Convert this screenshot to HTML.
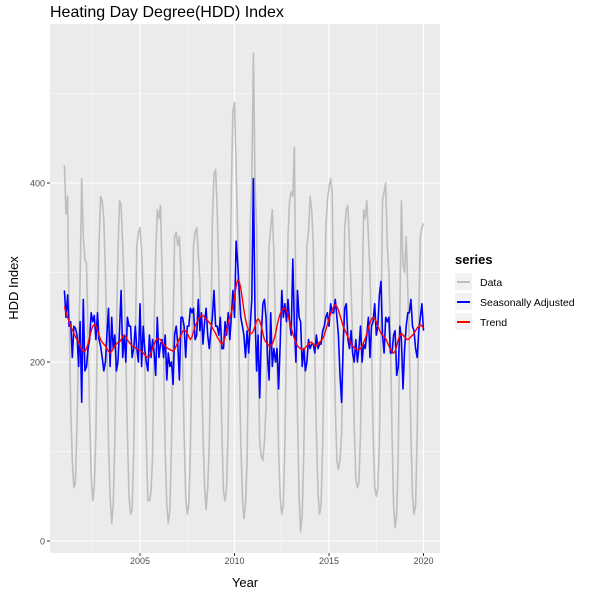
<!DOCTYPE html>
<html><head><meta charset="utf-8"><style>
body{margin:0;background:#fff;font-family:"Liberation Sans",sans-serif;}
svg text{font-family:"Liberation Sans",sans-serif;}
</style></head><body>
<svg id="chart" width="600" height="597">
<text x="50" y="17" font-size="16" fill="#000">Heating Day Degree(HDD) Index</text>
<rect x="50" y="24" width="390" height="529" fill="#ebebeb"/>
<g id="grid"></g><g id="series"></g><g id="axes"></g>
<text x="0" y="0" transform="translate(18,288) rotate(-90)" text-anchor="middle" font-size="13">HDD Index</text>
<text x="245" y="587" text-anchor="middle" font-size="13">Year</text>
<g>
<text x="455" y="264" font-size="13" font-weight="bold">series</text>
<rect x="455" y="273" width="17" height="17" fill="#f2f2f2"/><line x1="457" x2="470" y1="282" y2="282" stroke="#bebebe" stroke-width="2"/>
<text x="480" y="286" font-size="10.5">Data</text>
<rect x="455" y="293" width="17" height="17" fill="#f2f2f2"/><line x1="457" x2="470" y1="302" y2="302" stroke="#0000ff" stroke-width="2"/>
<text x="480" y="306" font-size="10.5">Seasonally Adjusted</text>
<rect x="455" y="313" width="17" height="17" fill="#f2f2f2"/><line x1="457" x2="470" y1="322" y2="322" stroke="#ff0000" stroke-width="2"/>
<text x="480" y="326" font-size="10.5">Trend</text>
</g>
</svg>
<script>
const startYear = 2001;
const yTicks = [0, 200, 400];
const xTicks = [2005, 2010, 2015, 2020];
const dataSeries = [
420,365,385,250,150,90,60,65,130,220,290,405,
340,315,310,230,140,75,45,60,120,250,330,385,
380,360,300,220,110,50,20,40,110,230,320,380,
375,330,280,210,120,50,30,35,100,220,330,345,
350,325,270,200,110,45,45,55,95,240,320,370,
360,375,300,210,100,40,20,35,110,240,340,345,
330,340,300,210,120,50,30,40,100,220,330,345,
350,320,290,200,120,60,35,60,110,220,360,410,
415,370,300,210,120,55,45,60,130,260,390,480,
490,420,340,200,110,50,25,40,90,230,350,400,
545,400,350,220,110,95,90,110,150,250,330,350,
370,320,240,210,100,50,30,40,110,230,340,380,
390,385,440,250,140,50,10,30,100,230,330,345,
385,370,330,210,120,55,30,40,110,230,350,380,
395,405,390,250,150,90,80,90,120,220,350,370,
375,330,280,230,130,70,60,65,120,260,370,360,
380,340,300,220,120,60,50,60,110,240,380,390,
400,330,300,230,120,40,15,30,100,260,380,310,
300,340,280,220,120,50,30,40,120,250,340,350,
355];
const saSeries = [
280,250,275,240,245,205,240,238,230,195,245,155,
270,190,195,215,225,255,245,252,225,255,225,218,
205,190,200,230,260,195,250,215,230,190,200,235,
280,205,230,200,250,240,240,205,215,240,215,200,
265,195,240,215,200,190,230,205,225,210,185,250,
205,220,225,205,230,180,210,195,200,175,230,240,
220,180,250,250,240,205,240,240,260,255,260,225,
230,270,235,255,220,245,260,230,215,235,250,280,
240,240,230,250,215,215,245,230,255,225,250,280,
250,335,310,280,250,240,230,205,235,210,240,270,
405,255,190,230,160,230,265,270,250,205,180,255,
195,215,200,215,170,220,280,250,265,245,270,245,
230,315,240,200,280,250,245,195,215,190,200,225,
215,220,220,210,230,215,220,220,235,240,250,255,
240,265,255,255,270,250,230,185,155,220,260,265,
225,215,235,210,200,225,200,215,240,200,220,215,
230,250,205,240,245,265,230,240,275,290,230,210,
250,245,250,210,210,230,235,185,195,240,225,170,
215,240,255,255,270,240,235,215,205,235,250,265,
235];
const trendSeries = [
262,255,250,245,240,236,232,228,225,222,218,215,
212,212,215,220,228,235,240,242,240,236,230,225,
222,220,218,215,212,210,212,215,218,220,222,222,
225,228,230,228,225,222,220,218,217,216,215,214,
213,212,210,208,206,205,206,210,215,220,224,226,
226,225,222,220,218,216,215,214,213,212,214,218,
222,226,230,234,236,235,232,228,225,228,234,240,
244,248,250,252,252,250,248,246,244,242,238,235,
232,228,225,222,220,222,228,236,244,250,255,262,
272,285,292,290,282,270,258,248,240,235,232,232,
235,240,246,248,246,240,232,225,222,220,218,218,
220,225,232,240,248,254,258,260,260,258,252,245,
238,232,226,222,218,216,215,214,214,216,218,220,
222,222,220,218,218,220,222,224,226,230,236,242,
248,254,258,262,264,262,258,252,246,240,236,232,
228,224,220,218,216,215,214,214,215,218,222,226,
232,238,244,248,250,248,245,240,236,232,230,228,
226,222,218,214,212,210,212,218,225,230,232,230,
228,226,225,226,228,230,232,235,238,240,242,240,
238];
const NS='http://www.w3.org/2000/svg';
function xs(t){return 140+(t-2005)*18.9;}
function ys(v){return 541-v*0.895;}
function mk(tag,attrs,parent){const e=document.createElementNS(NS,tag);for(const k in attrs)e.setAttribute(k,attrs[k]);parent.appendChild(e);return e;}
const grid=document.getElementById('grid'),axes=document.getElementById('axes'),ser=document.getElementById('series');
yTicks.forEach((v,i)=>{
  const m=mk('line',{x1:50,x2:440,y1:ys(v),y2:ys(v),stroke:'#fff','stroke-width':1.1},grid);
  
  
  const n=mk('line',{x1:50,x2:440,y1:ys(v+100),y2:ys(v+100),stroke:'#fff','stroke-width':0.5},grid);
  
  
  const t=mk('text',{x:45,y:ys(v)+3.5,'text-anchor':'end','font-size':9,fill:'#4d4d4d'},axes);t.textContent=v;
  
  
  mk('line',{x1:47,x2:50,y1:ys(v),y2:ys(v),stroke:'#333'},axes);
});
xTicks.forEach(yr=>{
  const m=mk('line',{x1:xs(yr),x2:xs(yr),y1:24,y2:553,stroke:'#fff','stroke-width':1.1},grid);
  
  
  const n=mk('line',{x1:xs(yr-2.5),x2:xs(yr-2.5),y1:24,y2:553,stroke:'#fff','stroke-width':0.5},grid);
  
  
  const t=mk('text',{x:xs(yr),y:564,'text-anchor':'middle','font-size':9,fill:'#4d4d4d'},axes);t.textContent=yr;
  
  
  mk('line',{x1:xs(yr),x2:xs(yr),y1:553,y2:556,stroke:'#333'},axes);
});
function path(arr,color,w,name){
  const d=arr.map((v,i)=>(i?'L':'M')+xs(startYear+i/12).toFixed(1)+','+ys(v).toFixed(1)).join('');
  const p=mk('path',{d:d,fill:'none',stroke:color,'stroke-width':w,'stroke-linejoin':'round'},ser);
  
  
}
path(dataSeries,'#bebebe',1.6,'data-line');
path(saSeries,'#0000ff',1.6,'seasonally-adjusted-line');
path(trendSeries,'#ff0000',1.4,'trend-line');
</script>
</body></html>
